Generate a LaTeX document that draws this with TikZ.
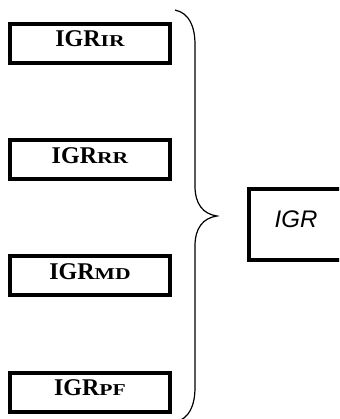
\documentclass[tikz,border=0pt]{standalone}
\usepackage{fontspec}
\usepackage{graphicx}
\setmainfont{Liberation Serif}
\newfontfamily\arialfont{Liberation Sans}
\newcommand\subsc[1]{{\fontsize{16.6}{16.6}\selectfont\scalebox{1.3}[1]{#1}}}
\begin{document}
\begin{tikzpicture}[x=1pt,y=-1pt,
  srcbox/.style={draw, line width=4pt, minimum width=160pt, minimum height=39pt, inner sep=0pt,
    text height=16pt, text depth=9pt, font=\fontsize{24}{24}\selectfont\bfseries},
  igrbox/.style={draw, line width=3.5pt, minimum width=94pt, minimum height=71pt, inner sep=0pt,
    text height=17pt, text depth=12pt, font=\arialfont\itshape\fontsize{24}{24}\selectfont},
  bracestyle/.style={line width=1.2pt}]
\useasboundingbox (0,0) rectangle (339,419);
\clip (0,0) rectangle (339,419);
\node[srcbox] (ir) at (90,43.5) {IGR\subsc{IR}};
\node[srcbox] (rr) at (90,160) {IGR\subsc{RR}};
\node[srcbox] (md) at (90,275.5) {IGR\subsc{MD}};
\node[srcbox] (pf) at (90,392) {IGR\subsc{PF}};
\node[igrbox] (igr) at (296,224.5) {IGR};
\draw[bracestyle] (175,10) .. controls (189,13) and (195,26) .. (195,45) -- (195,186)
  .. controls (195,204) and (203,214) .. (217,216)
  .. controls (203,218) and (195,228) .. (195,246) -- (195,387)
  .. controls (195,406) and (189,419) .. (175,422);
\end{tikzpicture}
\end{document}
